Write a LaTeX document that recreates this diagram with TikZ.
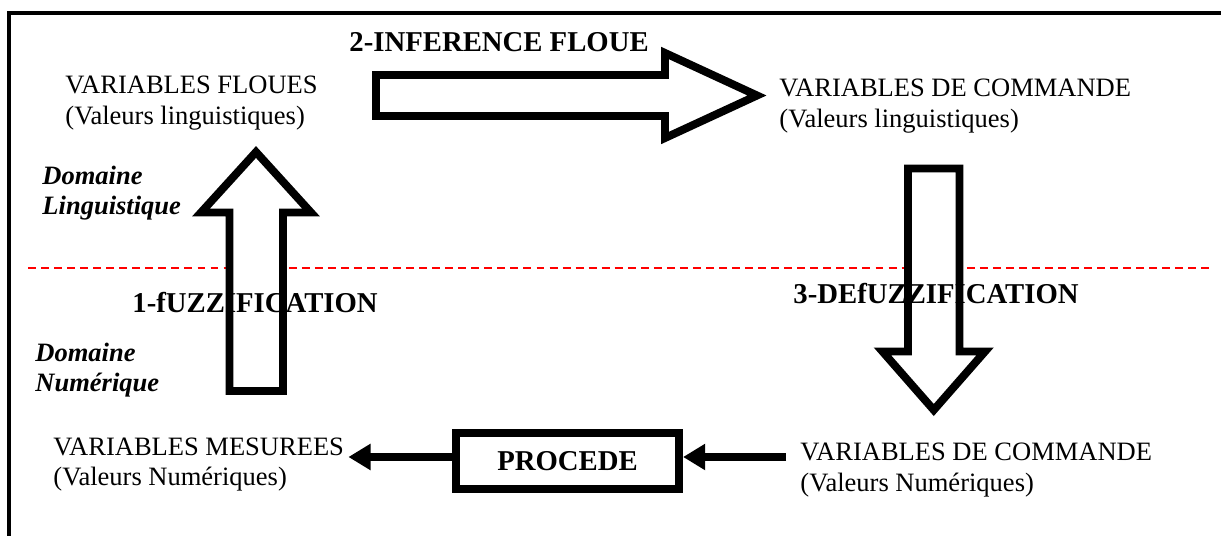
\documentclass[tikz,border=0pt]{standalone}
\usepackage{fontspec}
\setmainfont{Liberation Serif}
\usepackage{xcolor}
\usetikzlibrary{arrows.meta,positioning,calc}
\tikzset{
  bigarrow/.style={draw, line width=3.6pt, fill=white},
  valtext/.style={font=\fontsize{12}{13.8}\selectfont, align=left,
                  inner sep=0pt, anchor=base west},
  domtext/.style={font=\fontsize{12}{13.6}\selectfont\bfseries\itshape,
                  align=left, inner sep=0pt, anchor=base west},
  etape/.style={font=\fontsize{13}{15}\selectfont\bfseries,
                inner sep=0pt, anchor=base west},
  procbox/.style={draw, line width=3.6pt, font=\fontsize{13}{15}\selectfont\bfseries,
                  minimum width=101pt, minimum height=25.3pt, inner sep=0pt},
  fleche/.style={line width=3.2pt, -{Triangle[length=10pt,width=11.3pt]}},
}

\begin{document}
\begin{tikzpicture}[x=0.4525pt, y=-0.4525pt]
\useasboundingbox (0,0) rectangle (1221,536);

% --- Frame ---
\draw[line width=1.8pt] (9,560) -- (9,13) -- (1240,13);

% --- Domain border ---
\draw[red, line width=0.8pt, dash pattern=on 3.6pt off 2.3pt] (28,268) -- (1210,268);

% --- Big arrows ---
% fuzzification (up)
\draw[bigarrow] (229.5,391) -- (229.5,212.5) -- (201,212.5) -- (256,152)
  -- (311,212.5) -- (283,212.5) -- (283,391) -- cycle;
% inference (right)
\draw[bigarrow] (376,75) -- (665,75) -- (665,53) -- (757,95.5)
  -- (665,138) -- (665,116) -- (376,116) -- cycle;
% defuzzification (down)
\draw[bigarrow] (908,168.5) -- (959.5,168.5) -- (959.5,351.5) -- (985,351.5)
  -- (933.75,410) -- (882.5,351.5) -- (908,351.5) -- cycle;

% --- Variables (placed at the baseline of the last line) ---
\node[valtext] (floues) at (65,124.5) {VARIABLES FLOUES\\(Valeurs linguistiques)};
\node[valtext] (cmdling) at (779,127.5) {VARIABLES DE COMMANDE\\(Valeurs linguistiques)};
\node[valtext] (mesure) at (53,485.5) {VARIABLES MESUREES\\(Valeurs Numériques)};
\node[valtext] (cmdnum) at (800,491.5) {VARIABLES DE COMMANDE\\(Valeurs Numériques)};

% --- Domains ---
\node[domtext] (domling) at (42,215) {Domaine\\Linguistique};
\node[domtext] (domnum) at (35,392) {Domaine\\Numérique};

% --- Steps ---
\node[etape] (inference) at (349,52) {2-INFERENCE FLOUE};
\node[etape] (fuzz) at (132,313) {1-fUZZIFICATION};
\node[etape] (defuzz) at (793,304) {3-DEfUZZIFICATION};

% --- Procede ---
\node[procbox] (proc) at (567.5,461) {PROCEDE};
\coordinate (cin) at ($(cmdnum.base west)+(-14,-34.5)$);
\draw[fleche] (cin) -- (cin -| proc.east);
\draw[fleche] (proc.west |- cin) -- ($(cin -| mesure.east)+(4,0)$);

\end{tikzpicture}
\end{document}
